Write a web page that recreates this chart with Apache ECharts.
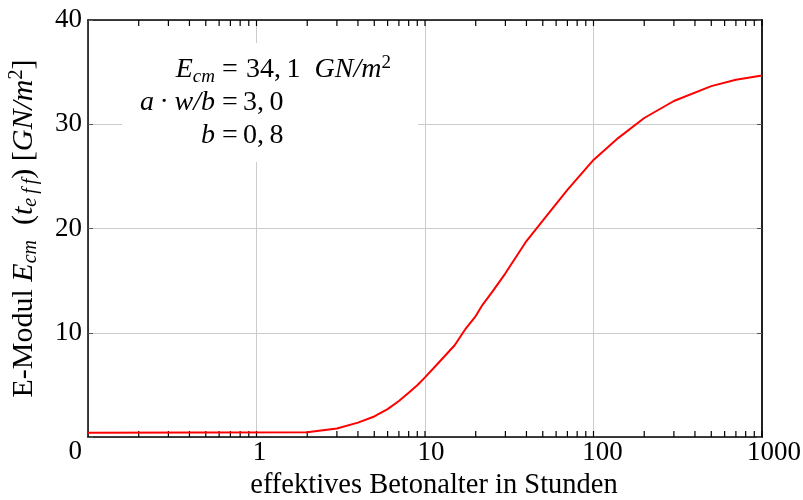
<!DOCTYPE html>
<html><head><meta charset="utf-8">
<script src="https://cdn.jsdelivr.net/npm/echarts@6/dist/echarts.min.js"></script>
<style>html,body{margin:0;padding:0;background:#fff}#c{width:803px;height:500px}</style>
</head><body><div id="c"></div>
<script>
// Data
const hours   = [0.1, 2, 3, 4, 5, 6, 7, 8, 9, 10, 12, 15, 17.5, 20, 22, 25, 30, 40, 50, 70, 100, 140, 200, 300, 500, 700, 1000];
const modulus = [0.40, 0.45, 0.82, 1.38, 1.97, 2.68, 3.45, 4.24, 4.96, 5.72, 7.10, 8.80, 10.43, 11.60, 12.70, 13.90, 15.70, 18.80, 20.75, 23.70, 26.58, 28.67, 30.60, 32.23, 33.66, 34.27, 34.67];
const xTickHours = [0.2,0.3,0.4,0.5,0.6,0.7,0.8,0.9,1,2,3,4,5,6,7,8,9,10,20,30,40,50,60,70,80,90,100,200,300,400,500,600,700,800,900,1000];
const xLabelTexts = ['1', '10', '100', '1000'];
const yTickLabels = ['0', '10', '20', '30', '40'];
const Y_MIN = Number(yTickLabels[0]);
const Y_MAX = Number(yTickLabels[yTickLabels.length - 1]);

const FONT = 'Liberation Serif';
const FS = 28;
function makeRich(fs) {
  const sub = Math.round(fs * 0.68);
  return {
    i: {fontStyle: 'italic', fontFamily: FONT, fontSize: fs, lineHeight: fs + 4},
    n: {fontFamily: FONT, fontSize: fs, lineHeight: fs + 4},
    s: {fontStyle: 'italic', fontFamily: FONT, fontSize: sub, lineHeight: sub, verticalAlign: 'bottom'},
    p: {fontFamily: FONT, fontSize: sub, lineHeight: sub, verticalAlign: 'top'}
  };
}
const rich = makeRich(FS);
const richName = makeRich(30);

const chart = echarts.init(document.getElementById('c'));
const axisBlack = {onZero: false, lineStyle: {color: '#000', width: 1.5}};
const option = {
  animation: false,
  grid: {left: 88, right: 41, top: 20, bottom: 63, outerBoundsMode: 'none'},
  xAxis: [
    {
      type: 'log', logBase: 10, min: 0.1, max: 1000, position: 'bottom',
      axisLine: axisBlack, axisTick: {show: false},
      splitLine: {show: true, lineStyle: {color: '#cccccc', width: 1}},
      axisLabel: {
        color: '#000', fontFamily: FONT, fontSize: 27, margin: 2,
        formatter: function (v) {
          if (v < 0.5) return '';
          const s = xLabelTexts.find(t => Math.abs(Number(t) - v) < 1e-6 * v) || '';
          return '{d' + s.length + '|' + s + '}';
        },
        rich: {
          d1: {fontFamily: FONT, fontSize: 27, padding: [0, 0, 0, 6]},
          d2: {fontFamily: FONT, fontSize: 27, padding: [0, 0, 0, 12]},
          d3: {fontFamily: FONT, fontSize: 27, padding: [0, 0, 0, 18]},
          d4: {fontFamily: FONT, fontSize: 27, padding: [0, 0, 0, 24]}
        }
      },
      name: '{a|effektives Betonalter in Stunden}', nameLocation: 'middle', nameGap: 34,
      nameTextStyle: {color: '#000', fontFamily: FONT, fontSize: 28.5,
        rich: {a: {fontFamily: FONT, fontSize: 28.5, padding: [0, 0, 0, 18]}}}
    },
    {
      type: 'log', logBase: 10, min: 0.1, max: 1000, position: 'top',
      axisLine: axisBlack, axisTick: {show: false}, axisLabel: {show: false}, splitLine: {show: false}
    }
  ],
  yAxis: [
    {
      type: 'value', min: Y_MIN, max: Y_MAX, interval: 10, position: 'left',
      axisLine: {show: true, onZero: false, lineStyle: {color: '#000', width: 1.5}},
      axisTick: {show: true, inside: true, length: 5, lineStyle: {color: '#555'}},
      splitLine: {show: true, lineStyle: {color: '#cccccc', width: 1}},
      axisLabel: {
        color: '#000', fontFamily: FONT, fontSize: 27, margin: 6,
        formatter: function (v) {
          const s = yTickLabels[Math.round(v / 10)];
          return v === 0 ? '{z|' + s + '}' : s;
        },
        rich: {z: {fontFamily: FONT, fontSize: 27, padding: [30, 0, 0, 0]}}
      },
      name: '{n|E-Modul }{i|E}{s|cm}{n|  (}{i|t}{s|e\u2009f\u2009f}{n|) [}{i|GN/m}{p|2}{n|]}',
      nameLocation: 'middle', nameGap: 47,
      nameTextStyle: {color: '#000', fontFamily: FONT, fontSize: 30, rich: richName}
    },
    {
      type: 'value', min: Y_MIN, max: Y_MAX, interval: 10, position: 'right',
      axisLine: {show: true, onZero: false, lineStyle: {color: '#222', width: 2}},
      axisTick: {show: true, inside: true, length: 5, lineStyle: {color: '#555'}},
      axisLabel: {show: false}, splitLine: {show: false}
    }
  ],
  graphic: [
    {type: 'rect', z: 100, shape: {x: 122, y: 43, width: 296, height: 119}, style: {fill: '#fff'}},
    {type: 'text', z: 101, style: {x: 215, y: 70, align: 'right', verticalAlign: 'middle', text: '{i|E}{s|cm}', rich: rich, fill: '#000'}},
    {type: 'text', z: 101, style: {x: 230, y: 70, align: 'center', verticalAlign: 'middle', text: '{n|=}', rich: rich, fill: '#000'}},
    {type: 'text', z: 101, style: {x: 246, y: 70, align: 'left', verticalAlign: 'middle', text: '{n|34,\u20091\u2002}{i|GN/m}{p|2}', rich: rich, fill: '#000'}},
    {type: 'text', z: 101, style: {x: 215, y: 103, align: 'right', verticalAlign: 'middle', text: '{i|a}{n|\u2009·\u2009}{i|w/b}', rich: rich, fill: '#000'}},
    {type: 'text', z: 101, style: {x: 230, y: 103, align: 'center', verticalAlign: 'middle', text: '{n|=}', rich: rich, fill: '#000'}},
    {type: 'text', z: 101, style: {x: 243, y: 103, align: 'left', verticalAlign: 'middle', text: '{n|3,\u20090}', rich: rich, fill: '#000'}},
    {type: 'text', z: 101, style: {x: 215, y: 136, align: 'right', verticalAlign: 'middle', text: '{i|b}', rich: rich, fill: '#000'}},
    {type: 'text', z: 101, style: {x: 230, y: 136, align: 'center', verticalAlign: 'middle', text: '{n|=}', rich: rich, fill: '#000'}},
    {type: 'text', z: 101, style: {x: 243, y: 136, align: 'left', verticalAlign: 'middle', text: '{n|0,\u20098}', rich: rich, fill: '#000'}}
  ],
  series: [
    {
      type: 'custom',
      data: xTickHours.map(h => [h, Y_MIN]),
      renderItem: function (params, api) {
        const p = api.coord([api.value(0), Y_MIN]);
        const q = api.coord([api.value(0), Y_MAX]);
        return {type: 'group', children: [
          {type: 'line', shape: {x1: p[0], y1: p[1], x2: p[0], y2: p[1] - 6}, style: {stroke: '#000', lineWidth: 1.2}},
          {type: 'line', shape: {x1: q[0], y1: q[1], x2: q[0], y2: q[1] + 6}, style: {stroke: '#000', lineWidth: 1.2}}
        ]};
      }
    },
    {
      type: 'line',
      data: hours.map((h, i) => [h, modulus[i]]),
      showSymbol: false, smooth: false,
      lineStyle: {color: '#ff0000', width: 2}
    }
  ]
};
chart.setOption(option);
</script>
</body></html>
